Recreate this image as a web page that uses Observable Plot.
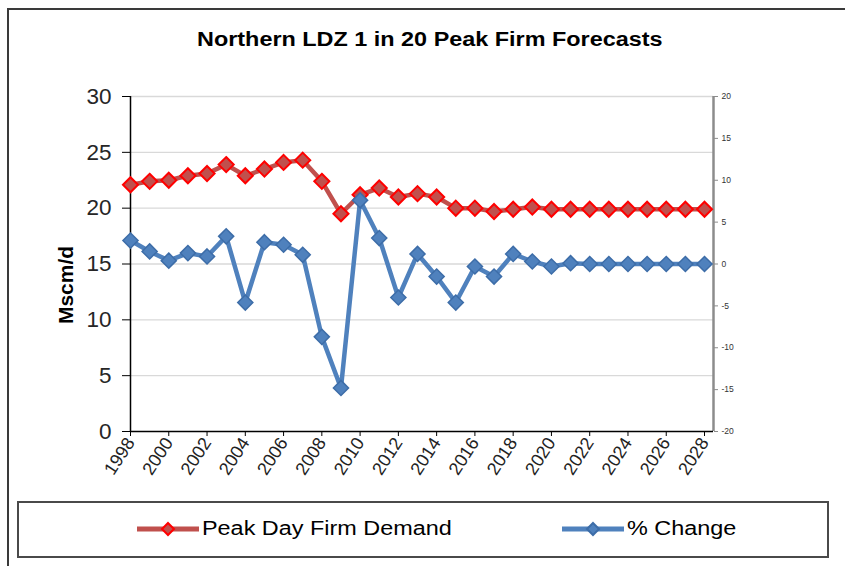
<!DOCTYPE html>
<html><head><meta charset="utf-8">
<script src="https://cdn.jsdelivr.net/npm/d3@7"></script>
<script src="https://cdn.jsdelivr.net/npm/@observablehq/plot@0.6"></script>
<style>
body{margin:0;width:845px;height:566px;overflow:hidden;background:#fff;font-family:"Liberation Sans",Arial,sans-serif;position:relative}
#frame{position:absolute;left:7px;top:8px;width:900px;height:700px;border:2px solid #3a3a3a;box-sizing:border-box}
#title{position:absolute;left:197px;top:28px;font-weight:bold;font-size:20px;color:#000;white-space:nowrap;transform:scaleX(1.17);transform-origin:0 0}
#chart{position:absolute;left:0;top:0}
#ylab{position:absolute;left:66px;top:285px;font-weight:bold;font-size:21px;white-space:nowrap;transform:translate(-50%,-50%) rotate(-90deg)}
#legend{position:absolute;left:17px;top:501px;width:812px;height:57px;border:2px solid #4a4a4a;box-sizing:border-box}
.li{position:absolute;top:0;height:53px;width:400px}
.lt{position:absolute;top:14px;font-size:20px;white-space:nowrap;transform:scaleX(1.17);transform-origin:0 0;color:#000}
.sw{position:absolute;left:0;top:16px}
</style></head>
<body>
<div id="frame"></div>
<div id="chart"></div>
<div id="title">Northern LDZ 1 in 20 Peak Firm Forecasts</div>
<div id="ylab">Mscm/d</div>
<div id="legend"></div>
<script>
const years = [1998,1999,2000,2001,2002,2003,2004,2005,2006,2007,2008,2009,2010,2011,2012,2013,2014,2015,2016,2017,2018,2019,2020,2021,2022,2023,2024,2025,2026,2027,2028];
const peakDemand = [22.1,22.4,22.5,22.9,23.1,23.9,22.9,23.5,24.1,24.3,22.4,19.5,21.2,21.8,21.0,21.3,21.0,20.0,20.0,19.7,19.9,20.1,19.9,19.9,19.9,19.9,19.9,19.9,19.9,19.9,19.9];
const pctChange = [2.8,1.5,0.4,1.3,0.9,3.3,-4.6,2.6,2.3,1.1,-8.7,-14.8,7.6,3.1,-4.0,1.2,-1.5,-4.6,-0.3,-1.5,1.2,0.3,-0.3,0.1,0.0,0.0,0.0,0.0,0.0,0.0,0.0];
const leftTicks = [0,5,10,15,20,25,30];
const rightTicks = [-20,-15,-10,-5,0,5,10,15,20];
const xTicks = [1998,2000,2002,2004,2006,2008,2010,2012,2014,2016,2018,2020,2022,2024,2026,2028];
const seriesNames = ["Peak Day Firm Demand","% Change"];
const colors = {demandLine:"#c0504d", demandEdge:"#ff0000", pctLine:"#4f81bd", pctEdge:"#3d6da8"};

const data = years.map((year,i)=>({year, demand: peakDemand[i], pct: pctChange[i]}));
// right axis (-20..20) mapped onto left axis (0..30)
const toLeft = v => 15 + v*0.75;
const xMax = 2028.47;

const chart = Plot.plot({
  width: 845, height: 500,
  marginLeft: 130, marginRight: 132, marginTop: 96, marginBottom: 69,
  style: {fontFamily: "'Liberation Sans', Arial, sans-serif", background: "transparent", overflow: "visible"},
  x: {domain: [1998, xMax]},
  y: {domain: [0, 30]},
  marks: [
    Plot.gridY(leftTicks.filter(d=>d>0), {stroke:"#d9d9d9", strokeOpacity:1, strokeWidth:1.3}),
    Plot.axisY(leftTicks, {anchor:"left", tickSize:8, tickPadding:11, fontSize:22.5, fill:"#262626", stroke:"#000", tickFormat:d=>String(d), label:null}),
    Plot.axisY(rightTicks.map(toLeft), {anchor:"right", tickSize:4, tickPadding:4, fontSize:8.5, fill:"#333", stroke:"#8c8c8c", tickFormat:d=>String(Math.round((d-15)/0.75)), label:null}),
    Plot.axisX(xTicks, {anchor:"bottom", tickSize:5, tickPadding:3, tickRotate:-57, fontSize:18, fill:"#222", stroke:"#000", tickFormat:d=>String(d), label:null}),
    Plot.ruleX([1998], {stroke:"#000", strokeWidth:1.5}),
    Plot.ruleX([xMax], {stroke:"#8c8c8c", strokeWidth:2.5}),
    Plot.ruleY([0], {stroke:"#000", strokeWidth:1.5}),
    Plot.line(data, {x:"year", y:"demand", stroke:colors.demandLine, strokeWidth:4.5}),
    Plot.dot(data, {x:"year", y:"demand", symbol:"diamond2", r:6.8, fill:colors.demandLine, stroke:colors.demandEdge, strokeWidth:2}),
    Plot.line(data, {x:"year", y:d=>toLeft(d.pct), stroke:colors.pctLine, strokeWidth:4.5}),
    Plot.dot(data, {x:"year", y:d=>toLeft(d.pct), symbol:"diamond2", r:6.8, fill:colors.pctLine, stroke:colors.pctEdge, strokeWidth:1.5})
  ]
});
document.getElementById("chart").appendChild(chart);

// legend
const leg = document.getElementById("legend");
const items = [
  {name: seriesNames[0], line: colors.demandLine, fill: colors.demandLine, edge: colors.demandEdge, x: 116},
  {name: seriesNames[1], line: colors.pctLine, fill: colors.pctLine, edge: colors.pctEdge, x: 541}
];
const NS = "http://www.w3.org/2000/svg";
for (const it of items) {
  const box = document.createElement("div");
  box.className = "li";
  box.style.left = it.x + "px";
  const sw = document.createElementNS(NS, "svg");
  sw.setAttribute("width", "66"); sw.setAttribute("height", "20");
  sw.setAttribute("class", "sw");
  const ln = document.createElementNS(NS, "line");
  ln.setAttribute("x1", "2"); ln.setAttribute("x2", "64"); ln.setAttribute("y1", "10"); ln.setAttribute("y2", "10");
  ln.setAttribute("stroke", it.line); ln.setAttribute("stroke-width", "5");
  const dm = document.createElementNS(NS, "path");
  dm.setAttribute("d", "M33,4L39,10L33,16L27,10Z");
  dm.setAttribute("fill", it.fill); dm.setAttribute("stroke", it.edge); dm.setAttribute("stroke-width", "2");
  sw.appendChild(ln); sw.appendChild(dm);
  box.appendChild(sw);
  const t = document.createElement("div");
  t.className = "lt"; t.textContent = it.name; t.style.left = "67px";
  box.appendChild(t);
  leg.appendChild(box);
}
</script>
</body></html>
